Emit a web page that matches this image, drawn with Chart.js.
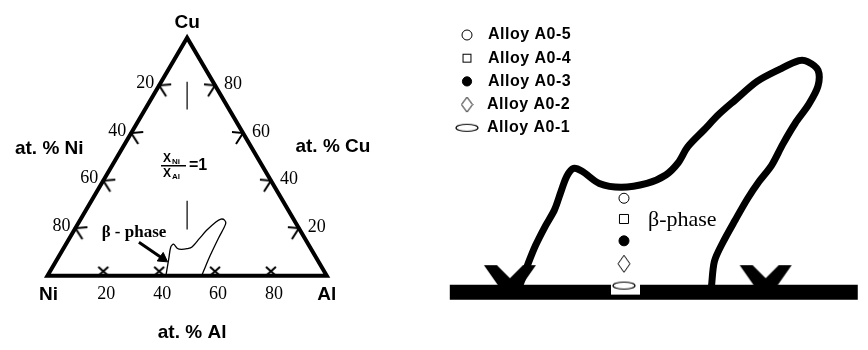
<!DOCTYPE html>
<html>
<head>
<meta charset="utf-8">
<script src="https://cdn.jsdelivr.net/npm/chart.js@4.4.0/dist/chart.umd.min.js"></script>
<style>
    body { margin: 0; background: #fff; width: 868px; height: 350px; position: relative; overflow: hidden; }
    canvas { position: absolute; top: 0; }
    #ternary { left: 0; }
    #zoom { left: 420px; }
</style>
</head>
<body>
<canvas id="ternary" width="380" height="350"></canvas>
<canvas id="zoom" width="448" height="350"></canvas>
<script>
// ternary Ni-Al-Cu, compositions given as at.% Al and at.% Cu (Ni = rest)
var cornerNames = ['Ni', 'Al', 'Cu'];
var cornerAl = [0, 100, 0];
var cornerCu = [0, 0, 100];
var gridTicks = [20, 40, 60, 80];

// beta-phase field as sketched in the triangle
var betaAl = [42.4, 39.8, 38.1, 38.5, 40.8, 42.4, 44.3, 45.7, 46.6, 47.4, 49.0, 50.2, 51.7, 52.9, 53.3, 54.0, 54.9, 55.2];
var betaCu = [0, 7.3, 12.1, 13.3, 11.5, 11.1, 11.4, 12.1, 15.7, 19.0, 22.6, 23.8, 23.4, 21.8, 16.1, 8.5, 2.0, 0];

// X_Ni / X_Al = 1 line (two pieces, label in between)
var ratioCu = [[81.5, 69.8], [31.5, 19.4]];

var arrowAl = [25.7, 37.6];
var arrowCu = [14.1, 7.3];

// enlarged beta field: x = at.% Al along the Ni-Al side, y = height above it
var zoomTicks = [40, 60];
var zoomBase = [35.3, 67.2];
var fieldX = [40.74, 41.41, 42.01, 42.75, 43.49, 44.01, 44.46, 44.98, 45.65, 46.99, 48.70, 50.71, 52.19, 53.16, 53.90, 55.17, 56.36,
              57.62, 59.33, 61.12, 62.60, 63.27, 64.09, 64.09, 63.35, 62.30, 61.34, 60.45, 59.48, 58.59, 57.62, 56.65, 55.99, 55.76];
var fieldY = [0.52, 2.58, 4.29, 6.01, 7.55, 9.27, 10.64, 11.33, 11.07, 9.96, 9.61, 9.96, 10.73, 11.85, 13.30, 14.85, 16.31,
              17.60, 19.31, 20.43, 21.20, 21.12, 20.34, 18.88, 17.17, 15.45, 13.56, 11.59, 10.13, 8.58, 6.61, 4.55, 2.83, 0.52];

var alloyNames = ['Alloy A0-5', 'Alloy A0-4', 'Alloy A0-3', 'Alloy A0-2', 'Alloy A0-1'];
var alloyX = [48.92, 48.92, 48.92, 48.92, 48.92];
var alloyY = [8.6, 6.7, 4.7, 2.6, 0.6];


var SQ3 = Math.sqrt(3) / 2;
function tern(al, cu){
    return {x: al + cu / 2, y: cu * SQ3};
}

function makeCanvas(w, h, draw){
    var c = document.createElement('canvas');
    c.width = w;
    c.height = h;
    var g = c.getContext('2d');
    g.strokeStyle = '#000';
    g.fillStyle = '#000';
    draw(g);
    return c;
}

// little marks on the triangle sides
var baseTick = makeCanvas(16, 20, function(g){
    g.lineWidth = 2;
    g.beginPath();
    g.moveTo(3, 1); g.lineTo(13, 10);
    g.moveTo(13, 1); g.lineTo(3, 10);
    g.stroke();
});
var leftTick = makeCanvas(32, 32, function(g){
    g.lineWidth = 2;
    g.beginPath();
    g.moveTo(28, 15); g.lineTo(16, 16); g.lineTo(23, 27);
    g.stroke();
});
var rightTick = makeCanvas(32, 32, function(g){
    g.lineWidth = 2;
    g.beginPath();
    g.moveTo(5, 15); g.lineTo(16, 16); g.lineTo(9, 27);
    g.stroke();
});
var bigTick = makeCanvas(64, 64, function(g){
    g.beginPath();
    g.moveTo(6, 5); g.lineTo(19, 5); g.lineTo(32, 18); g.lineTo(45, 5);
    g.lineTo(58, 5); g.lineTo(44, 25); g.lineTo(20, 25);
    g.closePath();
    g.fill();
});

function diamond(w, h){
    return makeCanvas(w + 2, h + 2, function(g){
        g.lineWidth = 1;
        g.fillStyle = '#fff';
        g.beginPath();
        g.moveTo(w / 2 + 1, 1); g.lineTo(w + 1, h / 2 + 1); g.lineTo(w / 2 + 1, h + 1); g.lineTo(1, h / 2 + 1);
        g.closePath();
        g.fill();
        g.stroke();
    });
}
function ellipse(w, h, patch){
    return makeCanvas(34, 26, function(g){
        if (patch){
            g.fillStyle = '#fff';
            g.fillRect(4, 10, 29, 12);
        }
        g.lineWidth = 1.2;
        g.fillStyle = '#fff';
        g.beginPath();
        g.ellipse(17, 13, w / 2, h / 2, 0, 0, Math.PI * 2);
        g.fill();
        g.stroke();
    });
}

var alloyStyles = [
    {pointStyle: 'circle', radius: 5, fill: '#fff'},
    {pointStyle: 'rect', radius: 6.4, fill: '#fff'},
    {pointStyle: 'circle', radius: 5, fill: '#000'},
    {pointStyle: diamond(12, 17), radius: 6, fill: '#fff'},
    {pointStyle: ellipse(22, 7, true), radius: 6, fill: '#fff'}
];
var legendMarks = [
    {pointStyle: 'circle', radius: 5, fill: '#fff'},
    {pointStyle: 'rect', radius: 5.6, fill: '#fff'},
    {pointStyle: 'circle', radius: 4.6, fill: '#000'},
    {pointStyle: diamond(11, 15), radius: 6, fill: '#fff'},
    {pointStyle: ellipse(22, 7, false), radius: 6, fill: '#fff'}
];

var sans = '"Liberation Sans", Arial, sans-serif';
var serif = '"Liberation Serif", "Times New Roman", serif';

function lineSet(points, width, extra){
    var ds = {
        data: points,
        showLine: true,
        borderColor: '#000',
        borderWidth: width,
        pointRadius: 0,
        fill: false,
        clip: false
    };
    for (var k in extra) ds[k] = extra[k];
    return ds;
}

function baseOptions(xmin, xmax, ymin, ymax){
    return {
        responsive: false,
        animation: false,
        events: [],
        layout: {padding: 0},
        plugins: {legend: {display: false}, tooltip: {enabled: false}},
        scales: {
            x: {type: 'linear', min: xmin, max: xmax, display: false},
            y: {type: 'linear', min: ymin, max: ymax, display: false}
        }
    };
}

// ---------- left: ternary diagram ----------
var corners = cornerAl.map(function(a, i){ return tern(a, cornerCu[i]); });
var triangle = [corners[0], corners[1], corners[2], corners[0], corners[1]];
var betaPts = betaAl.map(function(a, i){ return tern(a, betaCu[i]); });
var arrowPts = arrowAl.map(function(a, i){ return tern(a, arrowCu[i]); });

var ternDatasets = [
    lineSet(triangle, 4, {borderJoinStyle: 'miter'}),
    lineSet(betaPts, 1.3, {tension: 0.3, borderJoinStyle: 'round'}),
    lineSet(arrowPts, 3, {pointRadius: [0, 6], pointStyle: 'triangle', rotation: 125, pointBackgroundColor: '#000', pointBorderColor: '#000', pointBorderWidth: 1}),
    {data: gridTicks.map(function(t){ return tern(t, 0); }), pointStyle: baseTick, pointRadius: 5, clip: false},
    {data: gridTicks.map(function(t){ return tern(0, 100 - t); }), pointStyle: leftTick, pointRadius: 5, clip: false},
    {data: gridTicks.map(function(t){ return tern(100 - t, t); }), pointStyle: rightTick, pointRadius: 5, clip: false}
];
ratioCu.forEach(function(seg){
    ternDatasets.push(lineSet(seg.map(function(c){ return tern((100 - c) / 2, c); }), 1.2));
});

var ternText = {
    id: 'ternText',
    afterDatasetsDraw: function(chart){
        var ctx = chart.ctx, sx = chart.scales.x, sy = chart.scales.y;
        function px(al, cu){
            var p = tern(al, cu);
            return [sx.getPixelForValue(p.x), sy.getPixelForValue(p.y)];
        }
        function text(s, x, y, font, align){
            ctx.font = font;
            ctx.textAlign = align || 'center';
            ctx.fillText(s, x, y);
        }
        ctx.save();
        ctx.fillStyle = '#000';
        ctx.textBaseline = 'middle';
        var big = 'bold 19px ' + sans;
        var ni = px(0, 0), al = px(100, 0), cu = px(0, 100);
        text('Cu', cu[0], cu[1] - 15, big);
        text('Ni', ni[0] + 1, ni[1] + 19, big);
        text('Al', al[0], al[1] + 19, big);
        var mb = px(50, 0), ml = px(0, 50), mr = px(50, 50);
        text('at. % Al', mb[0] + 5, mb[1] + 57, big);
        text('at. % Ni', ml[0] - 68, ml[1] - 8, big);
        text('at. % Cu', mr[0] + 76, mr[1] - 10, big);

        var num = '18px ' + serif;
        gridTicks.forEach(function(t){
            var b = px(t, 0), l = px(0, 100 - t), r = px(100 - t, t);
            text(String(t), b[0] + 3, b[1] + 18, num);
            text(String(t), l[0] - 5, l[1] - 2, num, 'right');
            text(String(t), r[0] + 9, r[1] - 1, num, 'left');
        });

        text('\u03b2 - phase', 134, 233, 'bold 17px ' + serif);

        // X_Ni / X_Al = 1
        ctx.textBaseline = 'alphabetic';
        text('X', 163, 162, 'bold 12px ' + sans, 'left');
        text('Ni', 172, 164, 'bold 8px ' + sans, 'left');
        text('X', 163, 177, 'bold 12px ' + sans, 'left');
        text('Al', 172, 179, 'bold 8px ' + sans, 'left');
        ctx.fillRect(161, 165, 25, 1.5);
        ctx.textBaseline = 'middle';
        text('=1', 189, 166, 'bold 16px ' + sans, 'left');
        ctx.restore();
    }
};

new Chart(document.getElementById('ternary'), {
    type: 'scatter',
    data: {datasets: ternDatasets},
    options: baseOptions(-14.48, 116.55, -24.44, 97.77),
    plugins: [ternText]
});

// ---------- right: enlarged beta field ----------
var zoomDatasets = [];
alloyNames.forEach(function(name, i){
    var st = alloyStyles[i];
    zoomDatasets.push({
        label: name,
        data: [{x: alloyX[i], y: alloyY[i]}],
        pointStyle: st.pointStyle,
        pointRadius: st.radius,
        pointBackgroundColor: st.fill,
        pointBorderColor: '#000',
        pointBorderWidth: 1,
        clip: false
    });
});
zoomDatasets.push(lineSet(fieldX.map(function(x, i){ return {x: x, y: fieldY[i]}; }), 7,
    {tension: 0.3, borderJoinStyle: 'round', borderCapStyle: 'round'}));
zoomDatasets.push({data: zoomTicks.map(function(t){ return {x: t, y: 0}; }), pointStyle: bigTick, pointRadius: 10, clip: false});
zoomDatasets.push(lineSet(zoomBase.map(function(x){ return {x: x, y: 0}; }), 15, {borderCapStyle: 'butt'}));

var zoomText = {
    id: 'zoomText',
    afterDatasetsDraw: function(chart){
        var ctx = chart.ctx, sx = chart.scales.x, sy = chart.scales.y;
        ctx.save();
        ctx.fillStyle = '#000';
        ctx.strokeStyle = '#000';
        ctx.textBaseline = 'middle';
        ctx.textAlign = 'left';

        // legend
        ctx.font = 'bold 16px ' + sans;
        if ('letterSpacing' in ctx) ctx.letterSpacing = '0.5px';
        legendMarks.forEach(function(m, i){
            var x = 47, y = 35 + i * 23.2;
            ctx.lineWidth = 1;
            if (m.pointStyle === 'circle'){
                ctx.fillStyle = m.fill;
                ctx.beginPath();
                ctx.arc(x, y, m.radius, 0, Math.PI * 2);
                ctx.fill();
                ctx.stroke();
            } else if (m.pointStyle === 'rect'){
                var s = m.radius * Math.SQRT1_2;
                ctx.strokeRect(x - s, y - s, 2 * s, 2 * s);
            } else {
                ctx.drawImage(m.pointStyle, x - m.pointStyle.width / 2, y - m.pointStyle.height / 2);
            }
            ctx.fillStyle = '#000';
            ctx.fillText(alloyNames[i], i < 3 ? 68 : 67, y);
        });
        if ('letterSpacing' in ctx) ctx.letterSpacing = '0px';

        ctx.font = '22px ' + serif;
        var mx = sx.getPixelForValue(alloyX[1]), my = sy.getPixelForValue(alloyY[1]);
        ctx.fillText('\u03b2-phase', mx + 24, my + 1);
        ctx.restore();
    }
};

new Chart(document.getElementById('zoom'), {
    type: 'scatter',
    data: {datasets: zoomDatasets},
    options: baseOptions(33.83, 67.14, -4.29, 25.75),
    plugins: [zoomText]
});
</script>
</body>
</html>
